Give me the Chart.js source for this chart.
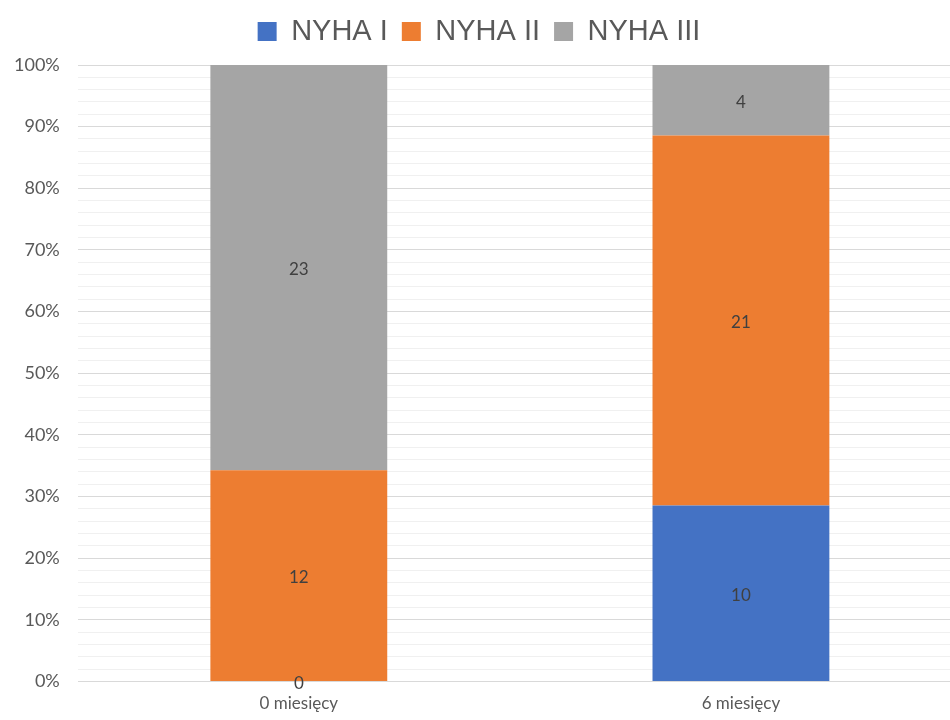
<!DOCTYPE html>
<html>
<head>
<meta charset="utf-8">
<script src="https://cdn.jsdelivr.net/npm/chart.js@4/dist/chart.umd.min.js"></script>
<style>
    html, body { margin: 0; padding: 0; background: #fff; overflow: hidden; }
    #wrap { position: relative; width: 966px; height: 720px; margin-left: -4px; }
</style>
</head>
<body>
<div id="wrap"><canvas id="grafico"></canvas></div>
<script>
// dados do gráfico
const kategorie = ['0 miesięcy', '6 miesięcy'];
const nyha1 = [0, 10];
const nyha2 = [12, 21];
const nyha3 = [23, 4];
const nazwySerii = ['NYHA I', 'NYHA II', 'NYHA III'];
const kolory = ['#4472C4', '#ED7D31', '#A5A5A5'];

const serie = [nyha1, nyha2, nyha3];
const sumy = kategorie.map((_, i) => serie.reduce((s, arr) => s + arr[i], 0));
const procent = arr => arr.map((v, i) => v / sumy[i] * 100);

/* ===== etykiety wartości w środku słupków ===== */
const etykiety = {
    id: 'etykiety',
    afterDatasetsDraw(chart) {
        const ctx = chart.ctx;
        ctx.save();
        ctx.font = '17px Lato, "Open Sans", sans-serif';
        ctx.fillStyle = '#404040';
        ctx.textAlign = 'center';
        ctx.textBaseline = 'middle';
        chart.data.datasets.forEach((ds, di) => {
            const meta = chart.getDatasetMeta(di);
            meta.data.forEach((bar, i) => {
                const wartosc = ds.surowe[i];
                const p = bar.getProps(['x', 'y', 'base'], true);
                ctx.fillText(String(wartosc), p.x, (p.y + p.base) / 2 + 2);
            });
        });
        ctx.restore();
    }
};

// odstęp pod legendą
const odstepLegendy = {
    id: 'odstepLegendy',
    beforeInit(chart) {
        const fit = chart.legend.fit;
        chart.legend.fit = function () {
            fit.bind(chart.legend)();
            this.height += 9;
        };
    }
};

new Chart(document.getElementById('grafico'), {
    type: 'bar',
    data: {
        labels: kategorie,
        datasets: serie.map((arr, i) => ({
            label: nazwySerii[i],
            data: procent(arr),
            surowe: arr,
            backgroundColor: kolory[i],
            barPercentage: 0.4,
            categoryPercentage: 1.0
        }))
    },
    options: {
        responsive: true,
        maintainAspectRatio: false,
        animation: false,
        layout: { padding: { left: 0, right: 0, top: 3, bottom: 2 } },
        plugins: {
            legend: {
                position: 'top',
                labels: {
                    boxWidth: 19,
                    boxHeight: 19,
                    padding: 14,
                    color: '#595959',
                    font: { size: 29, family: '"Liberation Sans", Arial, sans-serif' }
                }
            },
            tooltip: { enabled: false }
        },
        scales: {
            x: {
                stacked: true,
                grid: { display: false },
                border: { display: false },
                ticks: {
                    color: '#595959',
                    padding: 4,
                    font: { size: 17, family: 'Lato, "Open Sans", sans-serif' }
                }
            },
            y: {
                stacked: true,
                min: 0,
                max: 100,
                border: { display: false },
                grid: {
                    color: c => (Math.round(c.tick.value) % 10 === 0 ? '#d9d9d9' : '#f0f0f0'),
                    lineWidth: 1,
                    drawTicks: false
                },
                ticks: {
                    stepSize: 2,
                    autoSkip: false,
                    padding: 18,
                    color: '#595959',
                    font: { size: 18, family: 'Lato, "Open Sans", sans-serif' },
                    callback: v => (Math.round(v) % 10 === 0 ? Math.round(v) + '%' : '')
                }
            }
        }
    },
    plugins: [etykiety, odstepLegendy]
});
</script>
</body>
</html>
